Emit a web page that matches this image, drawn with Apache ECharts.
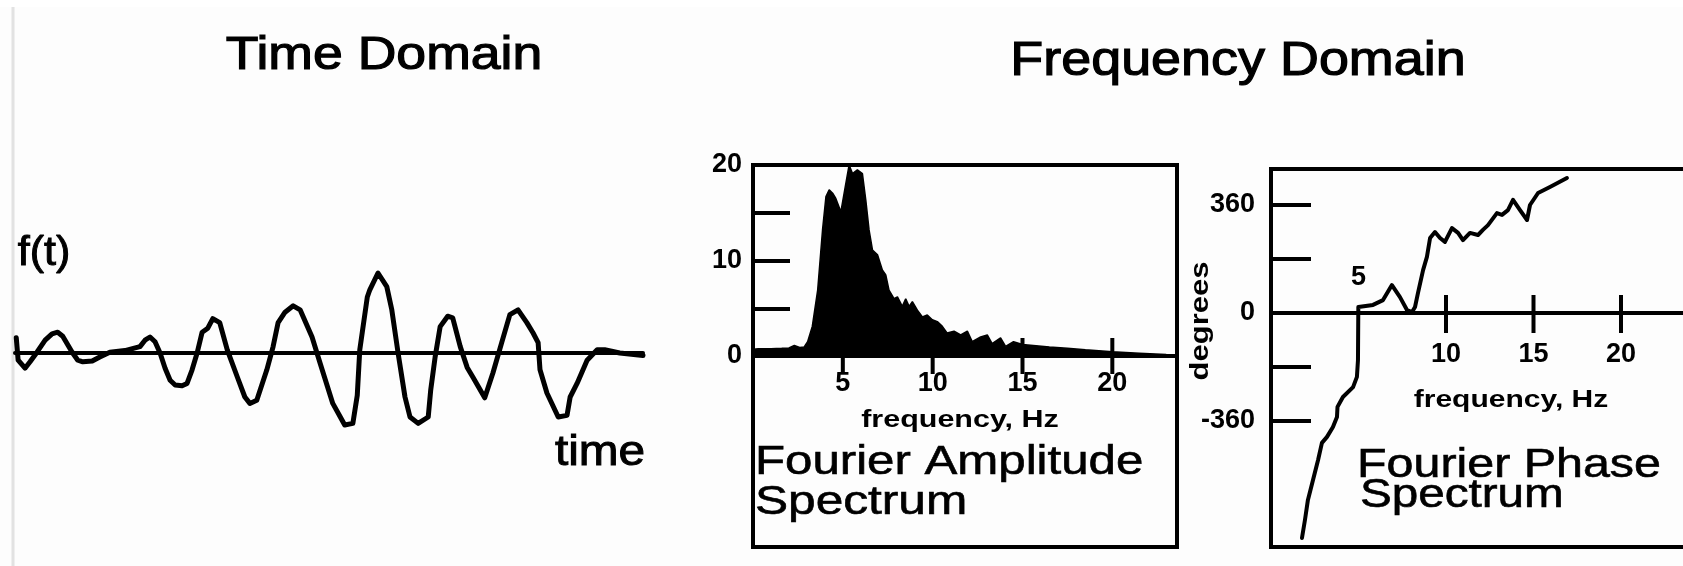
<!DOCTYPE html>
<html><head><meta charset="utf-8">
<script src="https://cdn.jsdelivr.net/npm/echarts@6/dist/echarts.min.js"></script>
<style>html,body{margin:0;padding:0;background:#fdfdfd}#c{width:1683px;height:566px}</style>
</head><body><div id="c"></div>
<script>
// ---- Time domain signal f(t) (arbitrary time units 0..10, amplitude normalised) ----
const timeT = [0.02,0.05,0.16,0.24,0.35,0.48,0.59,0.68,0.76,0.91,1.0,1.08,1.23,1.35,1.51,1.75,1.99,2.07,2.15,2.23,2.31,2.39,2.47,2.55,2.66,2.74,2.82,2.9,2.98,3.07,3.15,3.26,3.38,3.54,3.66,3.74,3.85,4.01,4.11,4.19,4.3,4.43,4.54,4.73,4.86,5.06,5.18,5.25,5.38,5.45,5.49,5.61,5.65,5.78,5.92,6.0,6.1,6.21,6.29,6.42,6.58,6.62,6.69,6.77,6.89,6.97,7.09,7.2,7.29,7.48,7.61,7.75,7.88,8.01,8.15,8.25,8.33,8.36,8.47,8.65,8.79,8.84,8.95,9.11,9.27,9.39,9.63,10.0];
const timeF = [0.19,-0.09,-0.19,-0.11,0.01,0.16,0.24,0.26,0.21,0.01,-0.09,-0.11,-0.10,-0.05,0.01,0.03,0.08,0.16,0.2,0.14,0.0,-0.19,-0.34,-0.4,-0.41,-0.38,-0.21,0.0,0.26,0.31,0.43,0.38,0.04,-0.3,-0.55,-0.63,-0.59,-0.21,0.08,0.38,0.51,0.59,0.54,0.2,-0.13,-0.63,-0.8,-0.9,-0.88,-0.53,0.04,0.7,0.79,1.0,0.83,0.54,0.0,-0.55,-0.8,-0.88,-0.8,-0.46,-0.05,0.33,0.46,0.44,0.08,-0.18,-0.3,-0.56,-0.25,0.13,0.48,0.54,0.38,0.25,0.13,-0.21,-0.5,-0.8,-0.78,-0.55,-0.38,-0.09,0.04,0.04,0.0,-0.03];

// ---- Fourier amplitude spectrum ----
const ampFreq = [0,0.3,1.0,1.6,2.0,2.3,2.6,2.85,3.04,3.3,3.6,3.87,4.06,4.24,4.45,4.61,4.89,5.17,5.35,5.54,5.81,6.09,6.28,6.46,6.65,6.93,7.2,7.39,7.57,7.85,8.04,8.31,8.5,8.69,8.87,9.15,9.43,9.7,9.98,10.26,10.54,10.81,11.19,11.56,11.93,12.2,12.67,13.04,13.31,13.78,14.06,14.5,15.0,15.6,16.5,17.5,18.5,20.0,21.5,23.0,23.6];
const ampVal  = [0.7,0.75,0.75,0.8,0.85,1.1,0.9,0.95,1.5,3.1,6.9,13.2,16.7,17.4,17.0,16.5,15.1,18.1,20.0,19.1,19.5,19.1,16.3,13.2,11.1,10.6,9.0,8.5,6.9,6.0,6.2,5.2,6.0,5.2,5.7,4.8,4.1,4.3,3.8,3.6,3.1,2.4,2.6,2.2,2.6,1.5,2.0,2.2,1.3,1.9,1.0,1.5,1.2,1.1,0.95,0.8,0.65,0.45,0.3,0.15,0.1];

// ---- Fourier phase spectrum (degrees) ----
const phaseFreq = [1.77,1.94,2.11,2.4,2.69,2.91,3.2,3.54,3.77,3.8,4.11,4.69,4.91,4.97,4.99,5.09,5.83,6.4,6.91,7.37,7.77,8.06,8.23,8.4,8.69,8.91,9.09,9.37,9.66,9.94,10.34,10.69,10.97,11.37,11.83,12.11,12.4,12.91,13.2,13.54,13.83,14.23,14.63,14.8,15.26,15.94,16.91];
const phaseDeg  = [-750,-690,-623,-557,-490,-433,-413,-380,-347,-313,-280,-247,-213,-157,20,20,27,43,93,53,10,3,20,67,143,187,250,270,250,237,283,267,243,267,260,277,293,333,327,343,377,343,310,360,400,420,450];

// ---- Tick values / labels ----
const ampXTicks = [5, 10, 15, 20];
const ampYTicks = [5, 10, 15];
const ampYLabels = [0, 10, 20];
const phaseXTicks = [10, 15, 20];
const phaseXLabelAbove = [5];
const phaseYTicks = [-360, -180, 180, 360];
const phaseYLabels = [-360, 0, 360];

const FONT = 'Liberation Sans, Arial, Helvetica, sans-serif';
const zip = (a, b) => a.map((v, i) => [v, b[i]]);

// grid geometry (pixels)
const AMP = {left: 753, top: 165, width: 424, height: 382};
const PH = {left: 1271, top: 169, width: 455, height: 378};
const AMP_ZERO = AMP.top + AMP.height / 2;                 // y=0 of the amplitude axis (min -20, max 20)
const PH_ZERO = PH.top + PH.height * 480 / 1260;            // y=0 of the phase axis (min -780, max 480)

const numLabel = (margin) => ({
  color: '#000', fontFamily: FONT, fontSize: 27, fontWeight: 'bold', margin: margin
});

function txt(text, x, y, size, sx, opts) {
  opts = opts || {};
  return {
    type: 'text', x: x, y: y, scaleX: sx, scaleY: 1, rotation: opts.rot || 0, z: 100,
    style: {
      text: text, fill: '#000', fontSize: size, fontFamily: FONT,
      fontWeight: opts.weight || 'normal',
      stroke: opts.stroke ? '#000' : null, lineWidth: opts.stroke || 0,
      textAlign: opts.align || 'center', align: opts.align || 'center',
      textVerticalAlign: 'middle', verticalAlign: 'middle'
    }
  };
}

const chart = echarts.init(document.getElementById('c'), null, {renderer: 'canvas'});
chart.setOption({
  backgroundColor: '#fdfdfd',
  animation: false,
  grid: [
    {left: 15, top: 233, width: 628, height: 240, outerBoundsMode: 'none', containLabel: false},
    Object.assign({show: true, borderColor: '#000', borderWidth: 4, backgroundColor: 'rgba(0,0,0,0)', outerBoundsMode: 'none', containLabel: false}, AMP),
    Object.assign({show: true, borderColor: '#000', borderWidth: 4, backgroundColor: 'rgba(0,0,0,0)', outerBoundsMode: 'none', containLabel: false}, PH)
  ],
  xAxis: [
    {gridIndex: 0, type: 'value', min: 0, max: 10,
     axisLine: {onZero: true, lineStyle: {color: '#000', width: 4}},
     axisTick: {show: false}, axisLabel: {show: false}, splitLine: {show: false}},
    {gridIndex: 1, type: 'value', min: 0, max: 23.6,
     axisLine: {onZero: true, lineStyle: {color: '#000', width: 4}},
     axisTick: {show: false},
     // labels of an on-zero axis are measured from the grid bottom, so pull them up to the zero line
     axisLabel: Object.assign({customValues: ampXTicks}, numLabel(14 - (AMP.top + AMP.height - AMP_ZERO))),
     splitLine: {show: false}},
    {gridIndex: 2, type: 'value', min: 0, max: 26,
     axisLine: {onZero: true, lineStyle: {color: '#000', width: 4}},
     axisTick: {show: false},
     axisLabel: Object.assign({customValues: phaseXTicks}, numLabel(28 - (PH.top + PH.height - PH_ZERO))),
     splitLine: {show: false}}
  ],
  yAxis: [
    {gridIndex: 0, type: 'value', min: -1.5, max: 1.5, show: false},
    {gridIndex: 1, type: 'value', min: -20, max: 20,
     axisLine: {show: false},
     axisTick: {show: true, customValues: ampYTicks, inside: true, length: 37, lineStyle: {color: '#000', width: 4}},
     axisLabel: Object.assign({customValues: ampYLabels}, numLabel(11)),
     splitLine: {show: false}},
    {gridIndex: 2, type: 'value', min: -780, max: 480,
     axisLine: {show: false},
     axisTick: {show: true, customValues: phaseYTicks, inside: true, length: 40, lineStyle: {color: '#000', width: 4}},
     axisLabel: Object.assign({customValues: phaseYLabels}, numLabel(16)),
     splitLine: {show: false}}
  ],
  series: [
    {type: 'line', name: 'f(t)', xAxisIndex: 0, yAxisIndex: 0, data: zip(timeT, timeF),
     symbol: 'none', lineStyle: {color: '#000', width: 5, join: 'round', cap: 'round'}, z: 3},
    {type: 'line', name: 'amplitude', xAxisIndex: 1, yAxisIndex: 1, data: zip(ampFreq, ampVal),
     symbol: 'none', lineStyle: {color: '#000', width: 1.5}, areaStyle: {color: '#000', opacity: 1}, z: 3},
    {type: 'scatter', name: 'ampTicks', xAxisIndex: 1, yAxisIndex: 1, silent: true,
     data: ampXTicks.map(v => [v, 0]), symbol: 'rect', symbolSize: [4, 36], symbolOffset: [0, 0],
     itemStyle: {color: '#000', opacity: 1}, z: 4},
    {type: 'line', name: 'phase', xAxisIndex: 2, yAxisIndex: 2, data: zip(phaseFreq, phaseDeg),
     symbol: 'none', lineStyle: {color: '#000', width: 4, join: 'round', cap: 'round'}, z: 3},
    {type: 'scatter', name: 'phaseTicks', xAxisIndex: 2, yAxisIndex: 2, silent: true,
     data: phaseXTicks.map(v => [v, 0]), symbol: 'rect', symbolSize: [4, 38], symbolOffset: [0, 1],
     itemStyle: {color: '#000', opacity: 1}, z: 4},
    {type: 'scatter', name: 'phaseTopLabel', xAxisIndex: 2, yAxisIndex: 2, silent: true,
     data: phaseXLabelAbove.map(v => [v, 0]), symbolSize: 0, itemStyle: {opacity: 1},
     label: {show: true, position: 'top', distance: 22, formatter: p => String(p.value[0]),
             color: '#000', opacity: 1, fontFamily: FONT, fontSize: 27, fontWeight: 'bold'}, z: 4}
  ],
  graphic: [
    {type: 'rect', shape: {x: 0, y: 0, width: 1683, height: 7}, style: {fill: '#ffffff'}, z: 0},
    {type: 'line', shape: {x1: 13, y1: 7, x2: 13, y2: 566}, style: {stroke: '#e2e2e2', lineWidth: 3}, z: 0},
    txt('Time Domain', 384, 56, 47, 1.14, {stroke: 1.2}),
    txt('Frequency Domain', 1238, 61, 49, 1.1, {stroke: 1.2}),
    txt('f(t)', 44, 254, 41, 1.05, {stroke: 1}),
    txt('time', 600, 453, 43, 1.11, {stroke: 1}),
    txt('frequency, Hz', 960, 420, 24, 1.27, {weight: 'bold'}),
    txt('Fourier Amplitude', 755, 463, 40, 1.23, {align: 'left', stroke: 0.6}),
    txt('Spectrum', 755, 503, 40, 1.24, {align: 'left', stroke: 0.6}),
    txt('degrees', 1201, 321, 25, 1.24, {weight: 'bold', rot: Math.PI / 2}),
    txt('frequency, Hz', 1511, 400, 24, 1.25, {weight: 'bold'}),
    txt('Fourier Phase', 1357, 466, 40, 1.21, {align: 'left', stroke: 0.6}),
    txt('Spectrum', 1360, 496, 40, 1.19, {align: 'left', stroke: 0.6})
  ]
});
</script>
</body></html>
